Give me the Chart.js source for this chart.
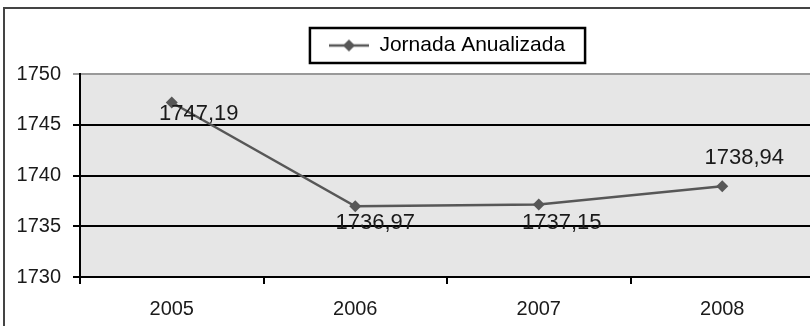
<!DOCTYPE html>
<html>
<head>
<meta charset="utf-8">
<script src="https://cdn.jsdelivr.net/npm/chart.js@4/dist/chart.umd.min.js"></script>
<style>
html, body { margin: 0; padding: 0; background: #fff; overflow: hidden; }
#wrap { position: absolute; left: 0; top: 0; width: 830px; height: 326px; }
</style>
</head>
<body>
<div id="wrap"><canvas id="chart"></canvas></div>
<script>
// data
const years = ['2005', '2006', '2007', '2008']
const jornada = [1747.19, 1736.97, 1737.15, 1738.94]
const yTicks = [1730, 1735, 1740, 1745, 1750]

const lineColor = '#575757'
const fontFamily = '"Liberation Sans", Arial, sans-serif'

// legend marker: short line with a diamond in the middle
const legendMark = document.createElement('canvas')
legendMark.width = 40
legendMark.height = 14
const lm = legendMark.getContext('2d')
lm.strokeStyle = lineColor
lm.lineWidth = 2.5
lm.beginPath()
lm.moveTo(0, 7)
lm.lineTo(40, 7)
lm.stroke()
lm.fillStyle = lineColor
lm.beginPath()
lm.moveTo(20, 1)
lm.lineTo(26, 7)
lm.lineTo(20, 13)
lm.lineTo(14, 7)
lm.closePath()
lm.fill()

/*
Grey plot background and the outer frame
*/
const backdrop = {
	id: 'backdrop',
	beforeDraw(chart) {
		const {ctx, chartArea} = chart
		ctx.save()
		ctx.fillStyle = '#e6e6e6'
		ctx.fillRect(chartArea.left, chartArea.top, chartArea.right - chartArea.left, chartArea.bottom - chartArea.top)
		ctx.strokeStyle = '#444'
		ctx.lineWidth = 2
		ctx.beginPath()
		ctx.moveTo(4, 330)
		ctx.lineTo(4, 8)
		ctx.lineTo(840, 8)
		ctx.stroke()
		ctx.restore()
	},
	afterDraw(chart) {
		// black box round the legend
		const lg = chart.legend
		if (!lg || !lg.legendHitBoxes.length) return
		const hb = lg.legendHitBoxes[0]
		const ctx = chart.ctx
		ctx.save()
		ctx.strokeStyle = '#000'
		ctx.lineWidth = 2.5
		ctx.strokeRect(hb.left - 19, hb.top + hb.height / 2 - 17.5, hb.width + 39, 35)
		ctx.restore()
	}
}

/*
Value labels next to each point
*/
const valueLabels = {
	id: 'valueLabels',
	afterDatasetsDraw(chart, args, opts) {
		const ctx = chart.ctx
		const meta = chart.getDatasetMeta(0)
		ctx.save()
		ctx.font = '22px ' + fontFamily
		ctx.fillStyle = '#1a1a1a'
		ctx.textAlign = 'center'
		ctx.textBaseline = 'middle'
		meta.data.forEach((pt, i) => {
			const off = opts.offsets[i]
			const txt = jornada[i].toFixed(2).replace('.', ',')
			ctx.fillText(txt, pt.x + off[0], pt.y + off[1])
		})
		ctx.restore()
	}
}

const ctx = document.getElementById('chart').getContext('2d')

const chart = new Chart(ctx, {
	type: 'line',
	data: {
		labels: years,
		datasets: [{
			label: 'Jornada Anualizada',
			data: jornada,
			borderColor: lineColor,
			backgroundColor: lineColor,
			borderWidth: 2.5,
			pointStyle: 'rectRot',
			pointRadius: 6,
			pointBorderWidth: 0,
			tension: 0
		}]
	},
	plugins: [backdrop, valueLabels],
	options: {
		responsive: true,
		maintainAspectRatio: false,
		animation: false,
		layout: {
			padding: { left: 10, top: 25, right: 16, bottom: 0 }
		},
		plugins: {
			legend: {
				display: true,
				fullSize: false,
				labels: {
					usePointStyle: true,
					pointStyle: legendMark,
					pointStyleWidth: 40,
					color: '#111',
					font: { family: fontFamily, size: 21 },
					padding: 10,
					generateLabels(chart) {
						return [{
							text: 'Jornada Anualizada',
							pointStyle: legendMark,
							fillStyle: lineColor,
							strokeStyle: lineColor,
							lineWidth: 0,
							datasetIndex: 0
						}]
					}
				}
			},
			tooltip: { enabled: false },
			valueLabels: {
				offsets: [[27, 11], [20, 17], [23, 19], [22, -28]]
			}
		},
		scales: {
			x: {
				offset: true,
				grid: {
					offset: true,
					drawOnChartArea: false,
					drawTicks: true,
					tickLength: 7,
					color: '#000',
					lineWidth: 2
				},
				border: { color: '#000', width: 2 },
				ticks: {
					color: '#1a1a1a',
					padding: 13,
					font: { family: fontFamily, size: 20 }
				},
				afterFit(scale) { scale.height = 49 }
			},
			// empty top axis, only a spacer between legend and plot
			xTop: {
				type: 'category',
				labels: years,
				position: 'top',
				grid: { display: false },
				border: { display: false },
				ticks: { display: false },
				afterFit(scale) { scale.height = 8 }
			},
			y: {
				min: yTicks[0],
				max: yTicks[yTicks.length - 1],
				afterBuildTicks(scale) {
					scale.ticks = yTicks.map(v => ({ value: v }))
				},
				grid: {
					color: c => c.tick && c.tick.value === 1750 ? '#999' : '#000',
					lineWidth: 2,
					tickLength: 7
				},
				border: { color: '#000', width: 2 },
				ticks: {
					color: '#1a1a1a',
					padding: 12,
					font: { family: fontFamily, size: 20 },
					callback: v => String(v)
				},
				afterFit(scale) { scale.width = 70 }
			}
		}
	}
})
</script>
</body>
</html>
